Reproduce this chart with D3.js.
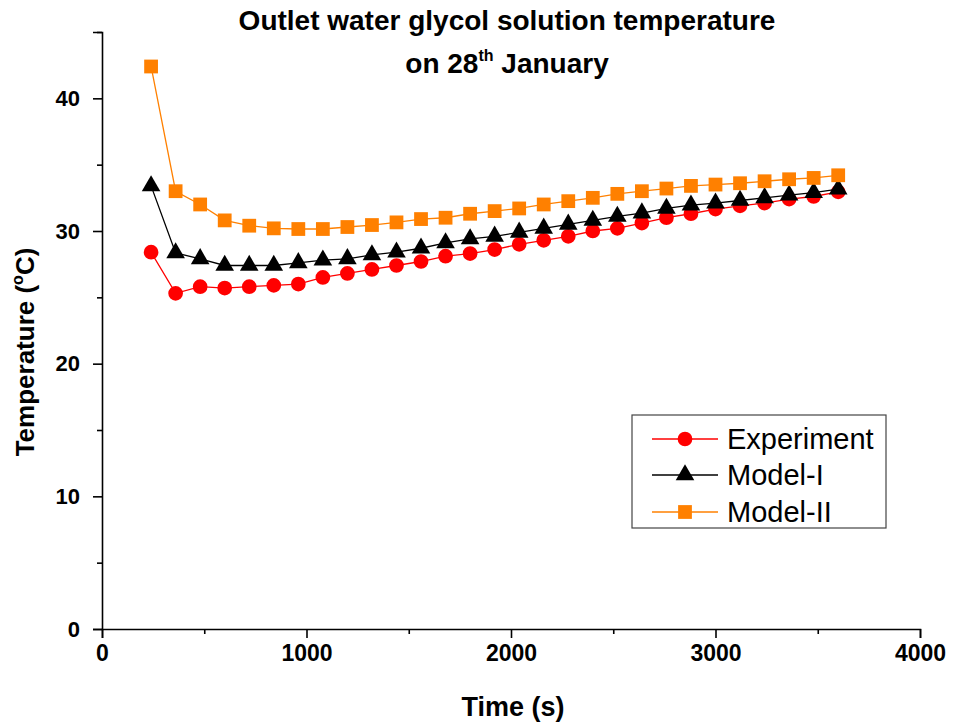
<!DOCTYPE html>
<html>
<head>
<meta charset="utf-8">
<script src="https://cdn.jsdelivr.net/npm/d3@7"></script>
<style>
  body { margin: 0; background: #fff; }
  text { font-family: "Liberation Sans", Arial, sans-serif; }
</style>
</head>
<body>
<div id="chart"></div>
<script>
const WIDTH = 953, HEIGHT = 725;
const MARGIN = {left: 102, right: 33, top: 32, bottom: 96};

// time steps (s)
const times = [240, 360, 480, 600, 720, 840, 960, 1080, 1200, 1320, 1440, 1560, 1680, 1800, 1920,
               2040, 2160, 2280, 2400, 2520, 2640, 2760, 2880, 3000, 3120, 3240, 3360, 3480, 3600];
const experiment = [28.4, 25.3, 25.8, 25.7, 25.8, 25.9, 26.0, 26.5, 26.8, 27.1, 27.4, 27.7, 28.1, 28.3, 28.6,
                    29.0, 29.3, 29.6, 30.0, 30.2, 30.6, 31.0, 31.3, 31.65, 31.9, 32.1, 32.4, 32.6, 32.95];
const modelI = [33.4, 28.35, 27.9, 27.4, 27.4, 27.4, 27.6, 27.8, 27.9, 28.2, 28.4, 28.7, 29.1, 29.4, 29.6,
                29.9, 30.2, 30.5, 30.8, 31.1, 31.35, 31.7, 31.95, 32.1, 32.3, 32.5, 32.7, 32.9, 33.15];
const modelII = [42.4, 33.0, 32.0, 30.8, 30.4, 30.2, 30.15, 30.15, 30.3, 30.45, 30.65, 30.9, 31.0, 31.3, 31.5,
                 31.7, 32.0, 32.25, 32.5, 32.8, 33.0, 33.2, 33.4, 33.5, 33.6, 33.75, 33.9, 34.0, 34.2];
const xTicks = [0, 1000, 2000, 3000, 4000];
const yTicks = [0, 10, 20, 30, 40];

const series = [
  {name: "Experiment", values: experiment, color: "#ff0000", shape: d3.symbolCircle, size: 170},
  {name: "Model-I", values: modelI, color: "#000000", shape: d3.symbolTriangle, size: 150},
  {name: "Model-II", values: modelII, color: "#ff8000", shape: d3.symbolSquare, size: 190}
];

const svg = d3.select("#chart").append("svg")
  .attr("width", WIDTH).attr("height", HEIGHT);

const x = d3.scaleLinear().domain([0, 4000]).range([MARGIN.left, WIDTH - MARGIN.right]);
const y = d3.scaleLinear().domain([0, 45]).range([HEIGHT - MARGIN.bottom, MARGIN.top]);

// axes: minor ticks first, then major ticks with labels
const xAxis = svg.append("g").attr("transform", "translate(0," + y(0) + ")");
xAxis.call(d3.axisBottom(x).tickValues(d3.range(500, 4000, 1000)).tickSize(5).tickFormat(""));
xAxis.call(g => g.select(".domain").remove());
const xMajor = svg.append("g").attr("transform", "translate(0," + y(0) + ")")
  .call(d3.axisBottom(x).tickValues(xTicks).tickFormat(d3.format("d")).tickSizeOuter(0).tickSize(9).tickPadding(7));

const yAxis = svg.append("g").attr("transform", "translate(" + x(0) + ",0)");
yAxis.call(d3.axisLeft(y).tickValues([5, 15, 25, 35, 45]).tickSize(5).tickFormat(""));
yAxis.call(g => g.select(".domain").remove());
const yMajor = svg.append("g").attr("transform", "translate(" + x(0) + ",0)")
  .call(d3.axisLeft(y).tickValues(yTicks).tickSizeOuter(0).tickSize(9).tickPadding(13));

svg.selectAll(".domain, .tick line").attr("stroke", "#000").attr("stroke-width", 1.6);
xMajor.selectAll(".tick text").attr("font-size", 23);
yMajor.selectAll(".tick text").attr("font-size", 22);
svg.selectAll(".tick text")
  .attr("font-weight", "bold").attr("fill", "#000")
  .style("font-family", "'Liberation Sans', Arial, sans-serif");

// lines + markers
series.forEach(s => {
  const pts = times.map((t, i) => [t, s.values[i]]);
  svg.append("path")
    .datum(pts)
    .attr("fill", "none")
    .attr("stroke", s.color)
    .attr("stroke-width", 1.3)
    .attr("d", d3.line().x(d => x(d[0])).y(d => y(d[1])));
  svg.selectAll(null)
    .data(pts)
    .enter()
    .append("path")
    .attr("transform", d => "translate(" + x(d[0]) + "," + y(d[1]) + ")")
    .attr("d", d3.symbol().type(s.shape).size(s.size))
    .attr("fill", s.color);
});

// title
svg.append("text").attr("x", 507).attr("y", 30).attr("text-anchor", "middle")
  .attr("font-size", 28).attr("font-weight", "bold")
  .text("Outlet water glycol solution temperature");
const line2 = svg.append("text").attr("x", 507).attr("y", 73).attr("text-anchor", "middle")
  .attr("font-size", 28).attr("font-weight", "bold");
line2.append("tspan").text("on 28");
line2.append("tspan").attr("font-size", 16).attr("dy", -12).text("th");
line2.append("tspan").attr("dy", 12).text(" January");

// axis titles
svg.append("text")
  .attr("x", 513).attr("y", 716)
  .attr("text-anchor", "middle")
  .attr("font-size", 27).attr("font-weight", "bold")
  .text("Time (s)");

const yl = svg.append("text")
  .attr("transform", "translate(34," + 352 + ") rotate(-90)")
  .attr("text-anchor", "middle")
  .attr("font-size", 26).attr("font-weight", "bold");
yl.append("tspan").text("Temperature (");
yl.append("tspan").attr("font-size", 16).attr("dy", -11).text("o");
yl.append("tspan").attr("dy", 11).text("C)");

// legend
const legend = svg.append("g");
legend.append("rect")
  .attr("x", 632).attr("y", 415).attr("width", 254).attr("height", 113)
  .attr("fill", "#fff").attr("stroke", "#444").attr("stroke-width", 1.2);
const rowsY = [439, 475, 512];
series.forEach((s, i) => {
  legend.append("line")
    .attr("x1", 652).attr("x2", 718).attr("y1", rowsY[i]).attr("y2", rowsY[i])
    .attr("stroke", s.color).attr("stroke-width", 1.3);
  legend.append("path")
    .attr("transform", "translate(685," + rowsY[i] + ")")
    .attr("d", d3.symbol().type(s.shape).size(s.size))
    .attr("fill", s.color);
  legend.append("text")
    .attr("x", 727).attr("y", rowsY[i] + 10)
    .attr("font-size", 29)
    .text(s.name);
});
</script>
</body>
</html>
